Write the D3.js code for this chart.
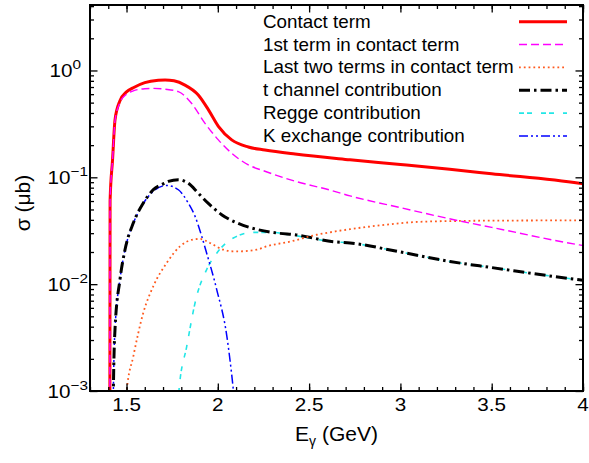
<!DOCTYPE html>
<html><head><meta charset="utf-8">
<script src="https://cdn.jsdelivr.net/npm/d3@7"></script>
<style>body{margin:0;background:#fff}svg{display:block}text{font-family:"Liberation Sans",Arial,Helvetica,sans-serif;fill:#000}</style>
</head><body><svg id="c" width="589" height="463"></svg>
<script>
// ---- data ----
const contactE = [1.4085,1.41,1.4235,1.437,1.464,1.5,1.537,1.6,1.674,1.711,1.76,1.820,1.893,1.948,2.003,2.076,2.167,2.258,2.423,2.724,3.0,3.27,3.5,3.98,4.0];
const contactV = [0.0003,0.06,0.146,0.345,0.52,0.63,0.69,0.77,0.81,0.815,0.8,0.73,0.59,0.43,0.30,0.224,0.192,0.18,0.165,0.146,0.132,0.119,0.108,0.088,0.087];

const firstE = [1.4085,1.41,1.4235,1.437,1.464,1.5,1.537,1.6,1.647,1.711,1.784,1.857,1.93,2.003,2.076,2.167,2.258,2.423,2.614,2.724,3.0,3.326,3.5,3.98,4.0];
const firstV = [0.0003,0.06,0.146,0.34,0.50,0.60,0.645,0.675,0.68,0.668,0.634,0.49,0.32,0.224,0.168,0.131,0.114,0.092,0.076,0.067,0.052,0.039,0.034,0.0233,0.023];

const lastTwoE = [1.495,1.501,1.537,1.592,1.647,1.72,1.793,1.866,1.902,1.957,2.03,2.083,2.121,2.213,2.268,2.395,2.541,2.651,2.724,2.888,3.089,3.3,3.5,3.98,4.0];
const lastTwoV = [0.0005,0.001,0.0021,0.0054,0.0096,0.0158,0.0226,0.0262,0.0265,0.0243,0.021,0.0203,0.0203,0.021,0.0226,0.025,0.029,0.0313,0.0327,0.0355,0.0382,0.039,0.0393,0.0395,0.0395];

const tChanE = [1.426,1.428,1.437,1.464,1.492,1.537,1.592,1.647,1.701,1.729,1.784,1.838,1.893,1.948,2.021,2.112,2.222,2.331,2.423,2.632,2.724,3.0,3.271,3.5,3.98,4.0];
const tChanV = [0.0005,0.001,0.0038,0.011,0.0211,0.0373,0.0575,0.0766,0.0869,0.0915,0.095,0.088,0.071,0.057,0.0447,0.037,0.0323,0.030,0.029,0.025,0.0243,0.020,0.0163,0.0143,0.011,0.0109];

const reggeE = [1.78,1.787,1.83,1.884,1.939,1.994,2.085,2.194,2.3,2.395,2.632,2.724,3.0,3.271,3.5,3.98,4.0];
const reggeV = [0.0005,0.001,0.00263,0.0077,0.0137,0.0195,0.027,0.0305,0.0305,0.029,0.025,0.0243,0.020,0.0163,0.0143,0.011,0.0109];

const kexE = [1.426,1.428,1.437,1.464,1.492,1.537,1.592,1.647,1.72,1.784,1.838,1.875,1.912,1.939,1.994,2.049,2.085,2.095];
const kexV = [0.0005,0.001,0.0038,0.011,0.021,0.037,0.057,0.074,0.084,0.0765,0.0575,0.0433,0.028,0.0195,0.0089,0.0033,0.00103,0.0007];

const legendLabels = ["Contact term","1st term in contact term","Last two terms in contact term","t channel contribution","Regge contribution","K exchange contribution"];
const xTickValues = [1.5,2,2.5,3,3.5,4];
const xTickLabels = ["1.5","2","2.5","3","3.5","4"];
const yTickValues = [1e-3,1e-2,1e-1,1];
const yTickExps = ["−3","−2","−1","0"];

// ---- setup ----
const svg = d3.select("#c");
const L=90,R=583,T=5,B=391;
const x = d3.scaleLinear().domain([1.3,4]).range([L,R]);
const y = d3.scaleLog().domain([1e-3,4.1]).range([B,T]);

const series = [
  {E:contactE,V:contactV,color:"#ff0000",w:3,dash:null},
  {E:firstE,V:firstV,color:"#ff00ff",w:1.4,dash:"8,4"},
  {E:lastTwoE,V:lastTwoV,color:"#ff5a1e",w:1.8,dash:"1.8,3"},
  {E:tChanE,V:tChanV,color:"#000000",w:3,dash:"11,4,2.5,4"},
  {E:reggeE,V:reggeV,color:"#22e6e6",w:1.6,dash:"5,3,5,9"},
  {E:kexE,V:kexV,color:"#0000ff",w:1.5,dash:"9,3,2,3,2,3"}
];

svg.append("defs").append("clipPath").attr("id","clip")
  .append("rect").attr("x",L).attr("y",T).attr("width",R-L).attr("height",B-T);

const line = d3.line().x(d=>x(d[0])).y(d=>y(d[1])).curve(d3.curveMonotoneX);
const g = svg.append("g").attr("clip-path","url(#clip)");
const order = [4,5,3,2,0,1];
order.forEach(i=>{
  const s = series[i];
  g.append("path").datum(s.E.map((e,k)=>[e,s.V[k]]))
    .attr("d",line).attr("fill","none").attr("stroke",s.color)
    .attr("stroke-width",s.w).attr("stroke-dasharray",s.dash);
});

// ---- axes (ticks inward, mirrored) ----
const minorX = d3.range(1.3,4.0001,0.1).map(v=>+v.toFixed(2));
const minorY = [];
[1e-3,1e-2,1e-1,1].forEach(d=>{for(let k=2;k<=9;k++){const v=d*k; if(v<=4.1) minorY.push(v);}});

function ax(gen, tr){ const a = svg.append("g").attr("transform",tr).call(gen);
  a.select(".domain").remove(); a.selectAll("text").remove();
  a.selectAll("line").attr("stroke","#000").attr("stroke-width",1.3); return a; }

ax(d3.axisBottom(x).tickValues(minorX).tickSize(-4),`translate(0,${B})`);
ax(d3.axisBottom(x).tickValues(xTickValues).tickSize(-7.5),`translate(0,${B})`);
ax(d3.axisTop(x).tickValues(minorX).tickSize(-4),`translate(0,${T})`);
ax(d3.axisTop(x).tickValues(xTickValues).tickSize(-7.5),`translate(0,${T})`);
ax(d3.axisLeft(y).tickValues(minorY).tickSize(-4),`translate(${L},0)`);
ax(d3.axisLeft(y).tickValues(yTickValues).tickSize(-7.5),`translate(${L},0)`);
ax(d3.axisRight(y).tickValues(minorY).tickSize(-4),`translate(${R},0)`);
ax(d3.axisRight(y).tickValues(yTickValues).tickSize(-7.5),`translate(${R},0)`);

svg.append("rect").attr("x",L).attr("y",T).attr("width",R-L).attr("height",B-T)
  .attr("fill","none").attr("stroke","#000").attr("stroke-width",2);

// text helper with slight horizontal stretch (as in the reference)
function stext(px,py,anchor,size,sx){
  return svg.append("text").attr("transform",`translate(${px},${py}) scale(${sx},1)`)
    .attr("text-anchor",anchor).attr("font-size",size);
}

// tick labels
xTickValues.forEach((v,i)=>{
  stext(x(v),411,"middle",17.5,1.18).text(xTickLabels[i]);
});
yTickValues.forEach((v,i)=>{
  const t = stext(v===1?81:88,y(v)+6.5,"end",17.5,1.18);
  t.append("tspan").text("10");
  t.append("tspan").attr("font-size",13).attr("dy",-8).text(yTickExps[i]);
});

// axis titles
const xt = svg.append("text").attr("x",(L+R)/2).attr("y",441).attr("text-anchor","middle").attr("font-size",21);
xt.append("tspan").text("E");
xt.append("tspan").attr("font-size",14).attr("dy",5).text("γ");
xt.append("tspan").attr("dy",-5).text(" (GeV)");

svg.append("text").attr("transform",`translate(30,203) rotate(-90)`).attr("text-anchor","middle")
  .attr("font-size",21).text("σ (μb)");

// legend
legendLabels.forEach((lab,i)=>{
  const cy = 21.7 + i*22.85;
  stext(263,cy+6,"start",17.5,1.075).text(lab);
  const s = series[i];
  svg.append("line").attr("x1",519).attr("x2",567).attr("y1",cy).attr("y2",cy)
    .attr("stroke",s.color).attr("stroke-width",s.w).attr("stroke-dasharray",s.dash);
});
</script></body></html>
